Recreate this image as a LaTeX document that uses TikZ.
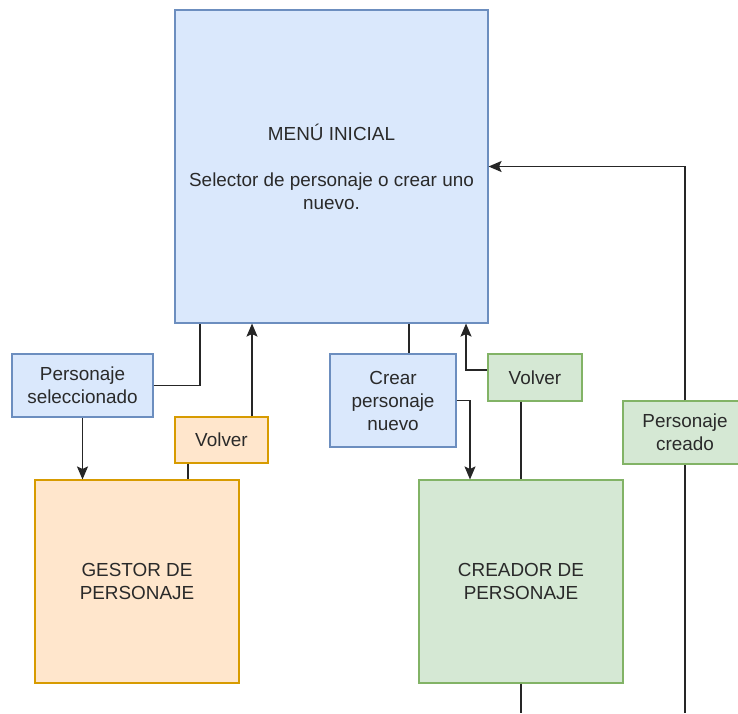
\documentclass[tikz,border=0pt]{standalone}
\usepackage{fontspec}
\setmainfont{Liberation Sans}
\usetikzlibrary{arrows.meta,calc}
\definecolor{bluefill}{HTML}{DAE8FC}
\definecolor{blueline}{HTML}{6C8EBF}
\definecolor{orangefill}{HTML}{FFE6CC}
\definecolor{orangeline}{HTML}{D79B00}
\definecolor{greenfill}{HTML}{D5E8D4}
\definecolor{greenline}{HTML}{82B366}
\definecolor{inktext}{HTML}{2A2A2A}
\tikzset{
  box/.style={draw, line width=1.1pt, align=center, inner sep=0pt, text=inktext,
    font=\fontsize{18.9}{23}\selectfont},
  bluebox/.style={box, fill=bluefill, draw=blueline},
  orangebox/.style={box, fill=orangefill, draw=orangeline},
  greenbox/.style={box, fill=greenfill, draw=greenline},
  wire/.style={draw=black!85, line width=1.3pt},
  arrowwire/.style={wire, -{Stealth[length=13pt,width=11pt,inset=2.5pt]}},
}
\begin{document}
\begin{tikzpicture}[x=1pt,y=-1pt]
\clip (0,0) rectangle (738,713);
\fill[white] (0,0) rectangle (738,713);

% main menu
\node[bluebox, minimum width=313, minimum height=313] (Main) at (331.5,166.5)
  {MENÚ INICIAL\\[23pt]Selector de personaje o crear uno\\nuevo.};

% left branch
\node[bluebox, minimum width=141, minimum height=63] (PS) at (82.5,385.5)
  {Personaje\\seleccionado};
\node[orangebox, minimum width=93, minimum height=46] (VolverO) at (221.5,440) {Volver};
\node[orangebox, minimum width=204, minimum height=203] (Gestor) at (137,581.5)
  {GESTOR DE\\PERSONAJE};

% right branch
\node[bluebox, minimum width=126, minimum height=93] (Crear) at (393,400.5)
  {Crear\\personaje\\nuevo};
\node[greenbox, minimum width=94, minimum height=47] (VolverG) at (535,377.5) {Volver};
\node[greenbox, minimum width=204, minimum height=203] (Creador) at (521,581.5)
  {CREADOR DE\\PERSONAJE};
\node[greenbox, minimum width=124, minimum height=63] (PC) at (685,432.5)
  {Personaje\\creado};

\coordinate (outA) at (521,713);
\coordinate (outB) at (685,713);

% connectors of the left branch
\draw[wire] (PS.east) -| ([xshift=-131.5]Main.south);
\draw[arrowwire] ([xshift=30.5]VolverO.north) -- ([xshift=30.5]VolverO.north |- Main.south);
\draw[arrowwire] (PS.south) -- (PS.south |- Gestor.north);
\draw[wire] ([xshift=-33.5]VolverO.south) -- ([xshift=-33.5]VolverO.south |- Gestor.north);

% connectors of the right branch
\draw[wire] ([xshift=77.5]Main.south) -- ([xshift=77.5]Main.south |- Crear.north);
\draw[arrowwire] ([yshift=7.5]VolverG.west) -| ([xshift=134.5]Main.south);
\draw[arrowwire] (Crear.east) -| ([xshift=-51]Creador.north);
\draw[wire] ([xshift=-14]VolverG.south) -- (Creador.north);
\draw[wire] (Creador.south) -- (outA);
\draw[wire] (outB) -- (PC.south);
\draw[arrowwire] (PC.north) |- (Main.east);
\end{tikzpicture}
\end{document}
